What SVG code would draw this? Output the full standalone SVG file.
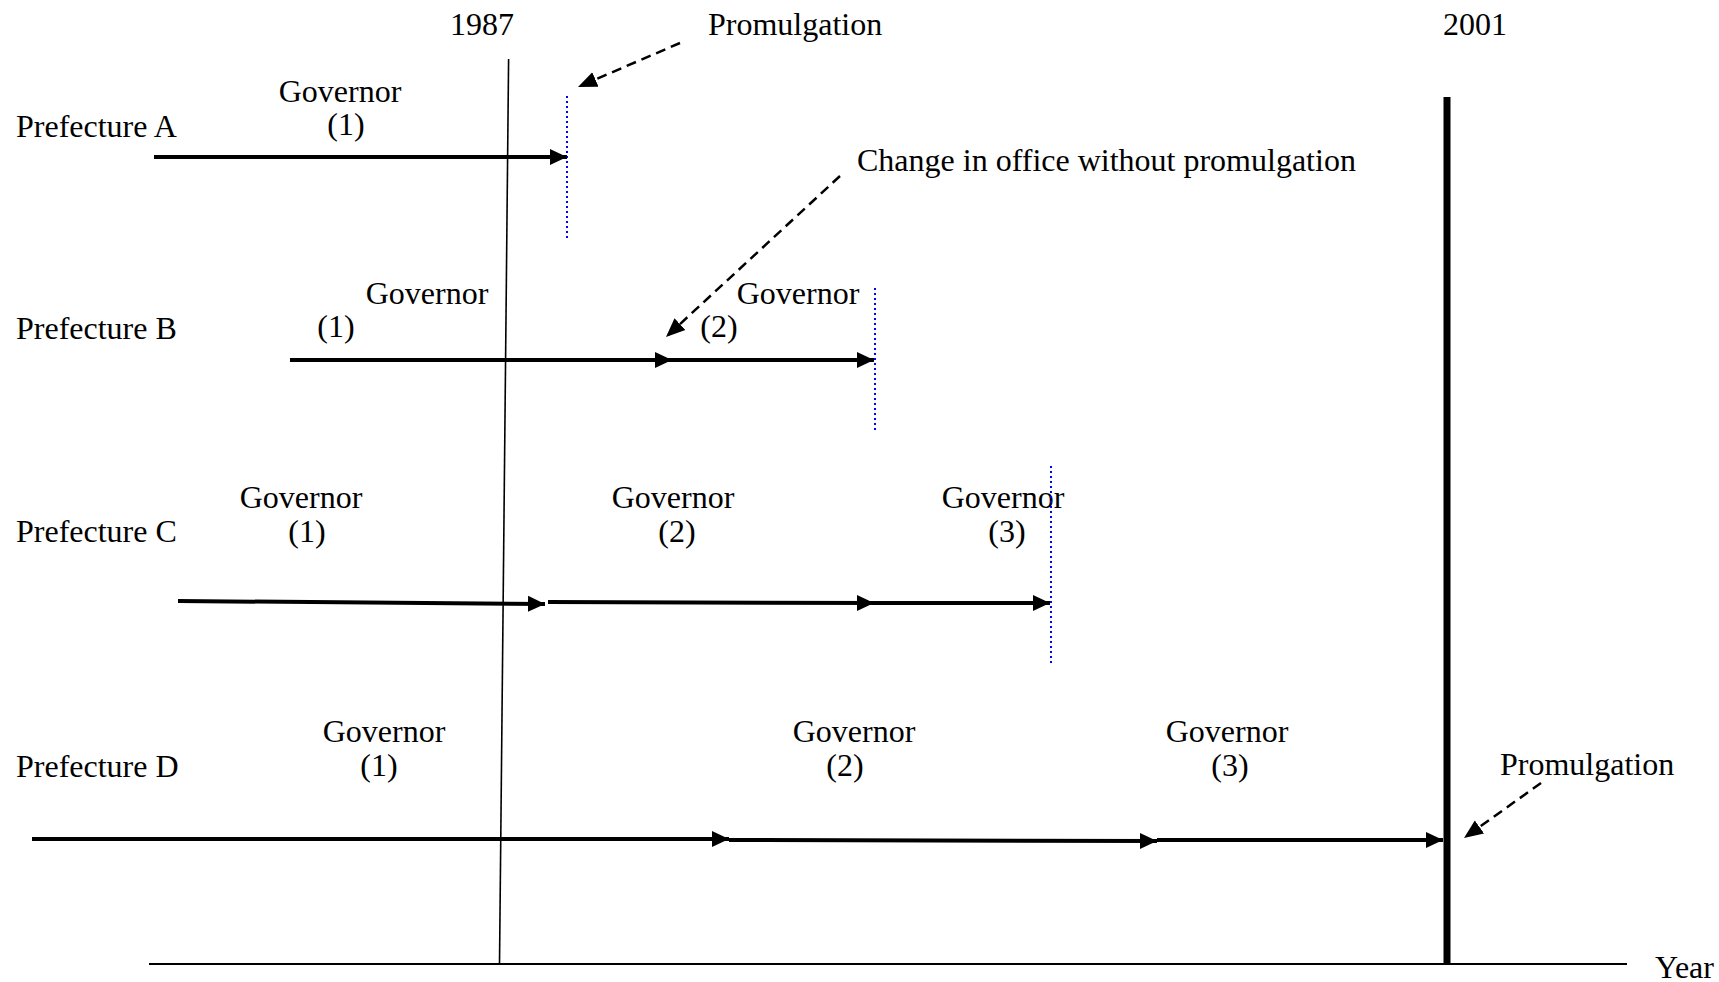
<svg xmlns="http://www.w3.org/2000/svg" width="1719" height="982" viewBox="0 0 1719 982">
<style>
text{font-family:"Liberation Serif","Times New Roman",serif;font-size:32px;fill:#000}
.c{text-anchor:middle}
.arr{stroke:#000;stroke-width:4;fill:none;marker-end:url(#ah)}
.dash{stroke:#000;stroke-width:2.5;fill:none;stroke-dasharray:10,6;marker-end:url(#dh)}
.blue{stroke:#0000ff;stroke-width:2;fill:none;stroke-dasharray:2,3}
</style>
<defs>
<marker id="ah" markerUnits="userSpaceOnUse" markerWidth="18" markerHeight="18" refX="17" refY="9" orient="auto" viewBox="0 0 18 18"><path d="M0,1 L17,9 L0,17 z" fill="#000"/></marker>
<marker id="dh" markerUnits="userSpaceOnUse" markerWidth="20" markerHeight="18" refX="19" refY="9" orient="auto" viewBox="0 0 20 18"><path d="M0,1 L19,9 L0,17 z" fill="#000"/></marker>
</defs>
<rect width="1719" height="982" fill="#fff"/>
<g id="axes">
<line x1="149" y1="964" x2="1627" y2="964" stroke="#000" stroke-width="2"/>
<line x1="508.6" y1="59" x2="499.5" y2="964" stroke="#000" stroke-width="1.6"/>
<line x1="1447" y1="97" x2="1447" y2="964" stroke="#000" stroke-width="7"/>
<text x="482" y="35" class="c">1987</text>
<text x="1475" y="35" class="c">2001</text>
<text x="1655" y="978">Year</text>
</g>
<g id="prefA">
<text x="16" y="137">Prefecture A</text>
<text x="340" y="102" class="c">Governor</text>
<text x="346" y="135" class="c">(1)</text>
<line class="blue" x1="567" y1="96" x2="567" y2="238"/>
</g>
<g id="prefB">
<text x="16" y="339">Prefecture B</text>
<text x="427" y="304" class="c">Governor</text>
<text x="336" y="337" class="c">(1)</text>
<text x="798" y="304" class="c">Governor</text>
<text x="719" y="337" class="c">(2)</text>
<line class="blue" x1="875" y1="288" x2="875" y2="431"/>
</g>
<g id="prefC">
<text x="16" y="542">Prefecture C</text>
<text x="301" y="508" class="c">Governor</text>
<text x="307" y="542" class="c">(1)</text>
<text x="673" y="508" class="c">Governor</text>
<text x="677" y="542" class="c">(2)</text>
<text x="1003" y="508" class="c">Governor</text>
<text x="1007" y="542" class="c">(3)</text>
<line class="blue" x1="1051" y1="466" x2="1051" y2="665"/>
</g>
<g id="prefD">
<text x="16" y="777">Prefecture D</text>
<text x="384" y="742" class="c">Governor</text>
<text x="379" y="776" class="c">(1)</text>
<text x="854" y="742" class="c">Governor</text>
<text x="845" y="776" class="c">(2)</text>
<text x="1227" y="742" class="c">Governor</text>
<text x="1230" y="776" class="c">(3)</text>
</g>
<g id="notes">
<text x="708" y="35">Promulgation</text>
<text x="857" y="171">Change in office without promulgation</text>
<text x="1500" y="775">Promulgation</text>
</g>
<g id="connectors">
<line class="arr" x1="154" y1="157" x2="567" y2="157"/>
<line class="arr" x1="290" y1="360" x2="672" y2="360"/>
<line class="arr" x1="672" y1="360" x2="874" y2="360"/>
<line class="arr" x1="178" y1="601" x2="545" y2="604"/>
<line class="arr" x1="548" y1="602" x2="874" y2="603"/>
<line class="arr" x1="874" y1="603" x2="1050" y2="603"/>
<line class="arr" x1="32" y1="839" x2="729" y2="839"/>
<line class="arr" x1="729" y1="840" x2="1157" y2="841"/>
<line class="arr" x1="1157" y1="840" x2="1443" y2="840"/>
<line class="dash" x1="680" y1="43" x2="578" y2="87"/>
<line class="dash" x1="840" y1="176" x2="666" y2="337"/>
<line class="dash" x1="1541" y1="783" x2="1464" y2="838"/>
</g>
</svg>
